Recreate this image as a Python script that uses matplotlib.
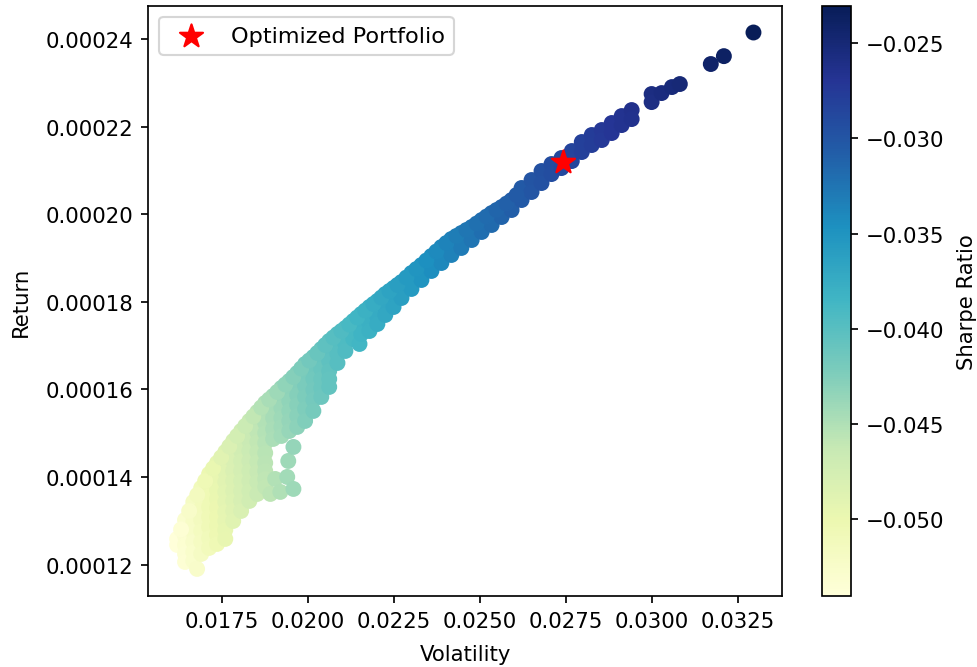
import matplotlib
matplotlib.use("Agg")
import matplotlib.pyplot as plt
import numpy as np

# Simulated portfolios: volatility and return (return in units of 1e-6)
volatility = [
    # lower-left part of the cloud, column by column
    0.01620, 0.01620,
    0.01643, 0.01643, 0.01643, 0.01643, 0.01643, 0.01643,
    0.01667, 0.01667, 0.01667, 0.01667, 0.01667, 0.01667, 0.01667,
    0.01678,
    0.01690, 0.01690, 0.01690, 0.01690, 0.01690, 0.01690, 0.01690,
    0.01713, 0.01713, 0.01713, 0.01713, 0.01713, 0.01713, 0.01713, 0.01713,
    0.01736, 0.01736, 0.01736, 0.01736, 0.01736, 0.01736, 0.01736, 0.01736, 0.01736, 0.01736,
    0.01760, 0.01760, 0.01760, 0.01760, 0.01760, 0.01760, 0.01760, 0.01760, 0.01760, 0.01760,
    0.01783, 0.01783, 0.01783, 0.01783, 0.01783, 0.01783, 0.01783, 0.01783, 0.01783,
    0.01806, 0.01806, 0.01806, 0.01806, 0.01806, 0.01806, 0.01806, 0.01806, 0.01806,
    0.01830, 0.01830, 0.01830, 0.01830, 0.01830, 0.01830, 0.01830, 0.01830, 0.01830,
    0.01853, 0.01853, 0.01853, 0.01853, 0.01853, 0.01853, 0.01853, 0.01853, 0.01853,
    0.01876, 0.01876, 0.01876, 0.01876, 0.01876, 0.01876, 0.01876, 0.01876, 0.01876, 0.01876,
    0.01899, 0.01899, 0.01899, 0.01899, 0.01899,
    0.01891, 0.01905,
    0.01923, 0.01923, 0.01923, 0.01923, 0.01923, 0.01923,
    0.01920, 0.01940,
    0.01946, 0.01946, 0.01946, 0.01946, 0.01946, 0.01946,
    0.01943, 0.01958, 0.01958,
    0.01969, 0.01969, 0.01969, 0.01969, 0.01969, 0.01969,
    0.01992, 0.01992, 0.01992, 0.01992, 0.01992, 0.01992,
    0.02016, 0.02016, 0.02016, 0.02016, 0.02016, 0.02016,
    0.02039, 0.02039, 0.02039, 0.02039, 0.02039, 0.02039,
    0.02062, 0.02062, 0.02062, 0.02062, 0.02062, 0.02062,
    0.02086, 0.02086, 0.02086, 0.02086,
    0.02109, 0.02109, 0.02109, 0.02109,
    0.02132, 0.02132, 0.02132,
    0.02150,
    0.02155, 0.02155, 0.02155,
    0.02179, 0.02179, 0.02179, 0.02179,
    0.02202, 0.02202, 0.02202, 0.02202,
    0.02225, 0.02225, 0.02225, 0.02225,
    0.02249, 0.02249, 0.02249,
    # middle band
    0.02272, 0.02272, 0.02272,
    0.02301, 0.02301, 0.02301,
    0.02330, 0.02330, 0.02330,
    0.02359, 0.02359, 0.02359,
    0.02388, 0.02388, 0.02388,
    0.02417, 0.02417, 0.02417,
    0.02446, 0.02446, 0.02446,
    0.02476, 0.02476, 0.02476,
    0.02505, 0.02505, 0.02505,
    0.02534, 0.02534, 0.02534,
    0.02563, 0.02563, 0.02563,
    0.02592, 0.02592, 0.02592,
    # upper chain
    0.02621, 0.02621,
    0.02650, 0.02650,
    0.02679, 0.02679,
    0.02708, 0.02708,
    0.02737, 0.02737,
    0.02767, 0.02767,
    0.02796, 0.02796,
    0.02825, 0.02825,
    0.02854, 0.02854,
    0.02883, 0.02883,
    0.02912, 0.02912,
    0.02941, 0.02941,
    0.02999, 0.02999,
    0.03028,
    0.03058,
    0.03081,
    0.03171, 0.03209, 0.03295,
    # portfolios lying on the upper (efficient) edge
    0.016315, 0.01655, 0.016785, 0.017015, 0.017245, 0.01748, 0.017715, 0.017945,
    0.01818, 0.018415, 0.018645, 0.018875, 0.01911, 0.019345, 0.019575, 0.019805,
    0.02004, 0.020275, 0.020505, 0.02074, 0.020975, 0.021205, 0.021435, 0.02167,
    0.021905, 0.022135, 0.02237, 0.022605, 0.022865, 0.023155, 0.023445, 0.023735,
    0.024025, 0.024315, 0.02461, 0.024905, 0.025195, 0.025485, 0.025775, 0.026065,
]

returns_e6 = [
    125.85, 124.48,
    130.18, 128.35, 126.53, 124.48, 122.42, 120.59,
    134.29, 132.01, 129.73, 127.44, 125.16, 122.88, 120.82,
    119.00,
    137.49, 135.21, 132.69, 130.18, 127.67, 125.16, 122.42,
    140.69, 137.95, 135.66, 133.15, 130.87, 128.58, 126.07, 123.79,
    143.20, 141.14, 139.09, 137.03, 134.98, 132.92, 130.87, 128.81, 126.76, 124.70,
    145.71, 143.42, 141.14, 138.86, 136.58, 134.29, 132.01, 129.95, 127.90, 125.85,
    148.22, 145.94, 143.65, 141.37, 139.09, 136.80, 134.52, 132.24, 129.95,
    150.50, 148.22, 145.94, 143.65, 141.37, 139.09, 136.80, 134.52, 132.24,
    152.79, 150.50, 148.22, 145.94, 143.65, 141.37, 139.09, 136.80, 134.52,
    154.84, 152.56, 150.27, 147.99, 145.71, 143.42, 141.14, 138.86, 136.12,
    156.90, 154.61, 152.33, 150.05, 147.76, 145.48, 143.20, 141.37, 139.54, 137.72,
    158.49, 155.98, 153.47, 150.96, 148.68,
    136.12, 139.54,
    160.32, 158.04, 155.75, 153.47, 151.42, 149.36,
    136.58, 140.00,
    161.92, 159.64, 157.35, 155.07, 152.79, 150.50,
    143.65, 146.85, 137.26,
    163.74, 161.23, 158.72, 156.44, 153.93, 151.42,
    165.80, 163.29, 160.78, 158.27, 155.53, 152.79,
    167.40, 164.89, 162.37, 159.86, 157.58, 155.07,
    169.22, 166.94, 164.66, 162.37, 160.32, 158.27,
    171.05, 168.77, 166.48, 164.20, 162.37, 160.55,
    172.65, 170.37, 168.08, 166.03,
    174.02, 172.19, 170.37, 168.77,
    175.62, 173.56, 171.51,
    170.37,
    177.21, 174.93, 172.65,
    178.81, 176.99, 175.16, 173.33,
    180.18, 178.36, 176.53, 174.93,
    181.78, 180.18, 178.59, 176.99,
    183.15, 181.09, 178.81,
    184.52, 182.69, 180.87,
    186.58, 184.75, 182.93,
    188.40, 186.57, 184.98,
    190.46, 188.63, 187.04,
    192.51, 190.68, 188.86,
    194.34, 192.51, 190.69,
    195.71, 193.88, 192.29,
    197.08, 195.48, 194.11,
    198.68, 197.30, 195.94,
    200.27, 198.90, 197.54,
    201.64, 200.50, 199.36,
    203.24, 202.10, 200.96,
    205.99, 203.24,
    207.81, 205.07,
    209.87, 207.12,
    211.46, 209.17,
    212.83, 210.54,
    214.43, 212.14,
    216.49, 214.20,
    218.09, 215.80,
    219.23, 216.94,
    220.83, 218.54,
    222.42, 220.36,
    223.79, 221.73,
    227.45, 225.61,
    227.67,
    229.04,
    229.73,
    234.30, 236.10, 241.50,
    128.02, 132.24, 135.89, 139.09, 141.95, 144.46, 146.97, 149.36,
    151.65, 153.82, 155.87, 157.70, 159.41, 161.12, 162.83, 164.77,
    166.60, 168.31, 170.14, 171.85, 173.34, 174.82, 176.42, 178.01,
    179.50, 180.98, 182.47, 183.84, 185.55, 187.49, 189.43, 191.49,
    193.43, 195.03, 196.40, 197.88, 199.48, 200.96, 202.44, 204.39,
]

risk_free_rate = 0.001
optimized_volatility = 0.02741
optimized_return = 0.000212
legend_label = "Optimized Portfolio"

vol = np.array(volatility)
ret = np.array(returns_e6) * 1e-6
sharpe = (ret - risk_free_rate) / vol

DPI = 153
fig = plt.figure(figsize=(977 / DPI, 668 / DPI), dpi=DPI)
ax = fig.add_axes([0.1518, 0.1067, 0.6489, 0.8833])
cax = fig.add_axes([0.8410, 0.1067, 0.0297, 0.8833])

sc = ax.scatter(vol, ret, c=sharpe, cmap="YlGnBu", s=42)
ax.scatter(optimized_volatility, optimized_return, marker="*", color="red",
           s=130, label=legend_label, zorder=3)
ax.set_xlabel("Volatility", labelpad=6.5)
ax.set_ylabel("Return", labelpad=7)
ax.legend(loc="upper left", fontsize=10.5)

cb = fig.colorbar(sc, cax=cax)
cb.set_label("Sharpe Ratio", labelpad=6)

fig.savefig("out.png", dpi=DPI)
